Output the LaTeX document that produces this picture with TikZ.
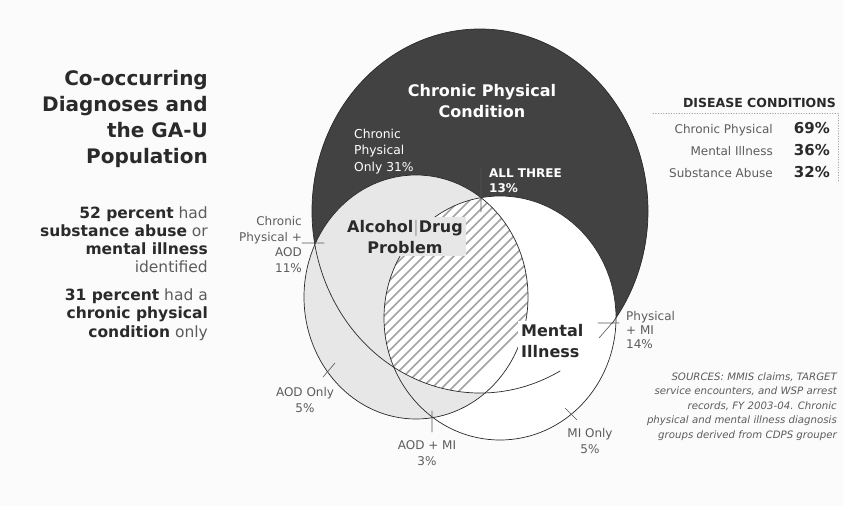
\documentclass[tikz,border=0pt]{standalone}
\usepackage{fontspec}
\setmainfont{DejaVu Sans}
\usetikzlibrary{positioning}
\definecolor{ink}{HTML}{2A2A2A}
\definecolor{soft}{HTML}{5C5C5C}
\definecolor{cpdark}{HTML}{424242}
\definecolor{aodgray}{HTML}{E7E7E7}
\definecolor{paper}{HTML}{FBFBFB}
\definecolor{hatchgray}{HTML}{A3A3A3}
\newcommand{\fsz}[2]{\fontsize{#1}{#2}\selectfont}
\newcommand{\hl}[1]{\textbf{\color{ink}#1}}
\tikzset{
  lbl/.style={inner sep=0pt,text=soft,font=\fsz{12}{15.5}},
  big/.style={inner sep=0pt,text=ink,font=\bfseries\fsz{16}{21}},
  tick/.style={draw=ink!80,line width=0.6pt},
  rim/.style={draw=ink,line width=0.7pt}
}
\begin{document}
\begin{tikzpicture}[x=1pt,y=-1pt,line join=round,line cap=round]
\fill[paper] (0,0) rectangle (843,506);
\useasboundingbox (0,0) rectangle (843,506);
% circles
\fill[cpdark] (480,211) ellipse[x radius=168,y radius=182];
\fill[white] (500,318) ellipse[x radius=116,y radius=122];
\fill[aodgray] (416,297) ellipse[x radius=112,y radius=122];
\begin{scope}
  \clip (480,211) ellipse[x radius=168,y radius=182];
  \clip (500,318) ellipse[x radius=116,y radius=122];
  \clip (416,297) ellipse[x radius=112,y radius=122];
  \fill[white] (300,150) rectangle (620,420);
  \foreach \k in {100,110,...,700}
    \draw[hatchgray,line width=1.6pt] (\k-300,450) -- (\k,150);
\end{scope}
\draw[rim] (480,211) ++(61.5:168 and 182)
  arc[start angle=61.5,end angle=398,x radius=168,y radius=182];
\draw[rim] (500,318) ellipse[x radius=116,y radius=122];
\draw[rim] (416,297) ellipse[x radius=112,y radius=122];
% ticks
\coordinate (t1a) at (302,243); \coordinate (t1b) at (324,243);
\coordinate (t2a) at (481,168); \coordinate (t2b) at (481,212);
\coordinate (t3a) at (598,323); \coordinate (t3b) at (619,323);
\coordinate (t3c) at (599,338); \coordinate (t3d) at (613,322);
\coordinate (t4a) at (432,411); \coordinate (t4b) at (432,432);
\coordinate (t5a) at (323,377); \coordinate (t5b) at (335,363);
\coordinate (t6a) at (565,408); \coordinate (t6b) at (577,420);
\draw[tick] (t1a) -- (t1b) (t2a) -- (t2b) (t3a) -- (t3b) (t3c) -- (t3d)
  (t4a) -- (t4b) (t5a) -- (t5b) (t6a) -- (t6b);
% labels on the circles
\node[big,text=white,align=center,anchor=base] (cpc) at (482,117) {Chronic Physical\\Condition};
\node[lbl,text=white,align=left,anchor=base west,font=\fsz{12.3}{16.5}] (cponly) at (354,171) {Chronic\\Physical\\Only 31\%};
\node[lbl,text=white,align=left,anchor=base west,font=\bfseries\fsz{12}{15}] (all) at (489,192) {ALL THREE\\13\%};
\node[big,align=center,anchor=base,fill=aodgray,inner sep=3pt] (aod) at (405,253) {Alcohol{\mdseries\color{hatchgray}|}Drug\\Problem};
\node[big,align=left,anchor=base west,fill=white,inner sep=3pt] (mi) at (518,357) {Mental\\Illness};
\node[lbl,align=right,anchor=base east] (cpaod) at (302,272) {Chronic\\Physical +\\AOD\\11\%};
\node[lbl,align=center,anchor=base] (aodonly) at (305,412) {AOD Only\\5\%};
\node[lbl,align=center,anchor=base] (aodmi) at (427,465) {AOD + MI\\3\%};
\node[lbl,align=center,anchor=base] (mionly) at (590,453) {MI Only\\5\%};
\node[lbl,align=left,anchor=base west,font=\fsz{12}{14}] (cpmi) at (626,348) {Physical\\+ MI\\14\%};
% left text
\node[inner sep=0pt,text=ink,align=right,anchor=base east,font=\bfseries\fsz{20}{26}] (title) at (208,163) {Co-occurring\\Diagnoses and\\the GA-U\\Population};
\node[inner sep=0pt,text=soft,align=right,anchor=base east,font=\fsz{15.5}{18}] (stat1) at (208,272) {\hl{52 percent} had\\\hl{substance abuse} or\\\hl{mental illness}\\identified};
\node[inner sep=0pt,text=soft,align=right,anchor=base east,font=\fsz{15.5}{18.5}] (stat2) at (208,337) {\hl{31 percent} had a\\\hl{chronic physical}\\\hl{condition} only};
% table
\node[inner sep=0pt,text=ink,anchor=base east,font=\bfseries\fsz{12.5}{15}] (head) at (836,107) {DISEASE CONDITIONS};
\coordinate (r1) at (653,113); \coordinate (r2) at (838,113); \coordinate (r3) at (838,182);
\draw[soft!60,dotted,line width=0.6pt] (r1) -- (r2) -- (r3);
\foreach \nm/\pc/\yy in {Chronic Physical/69/133,Mental Illness/36/155,Substance Abuse/32/177}{
  \node[lbl,anchor=base east] at (773,\yy) {\nm};
  \node[inner sep=0pt,text=ink,anchor=base east,font=\bfseries\fsz{15}{18}] at (830,\yy) {\pc\%};
}
\node[inner sep=0pt,text=soft,align=right,anchor=base east,font=\itshape\fsz{10.2}{14.5}] (src) at (837,438)
  {SOURCES: MMIS claims, TARGET\\service encounters, and WSP arrest\\records, FY 2003-04. Chronic\\physical and mental illness diagnosis\\groups derived from CDPS grouper};
\end{tikzpicture}
\end{document}
